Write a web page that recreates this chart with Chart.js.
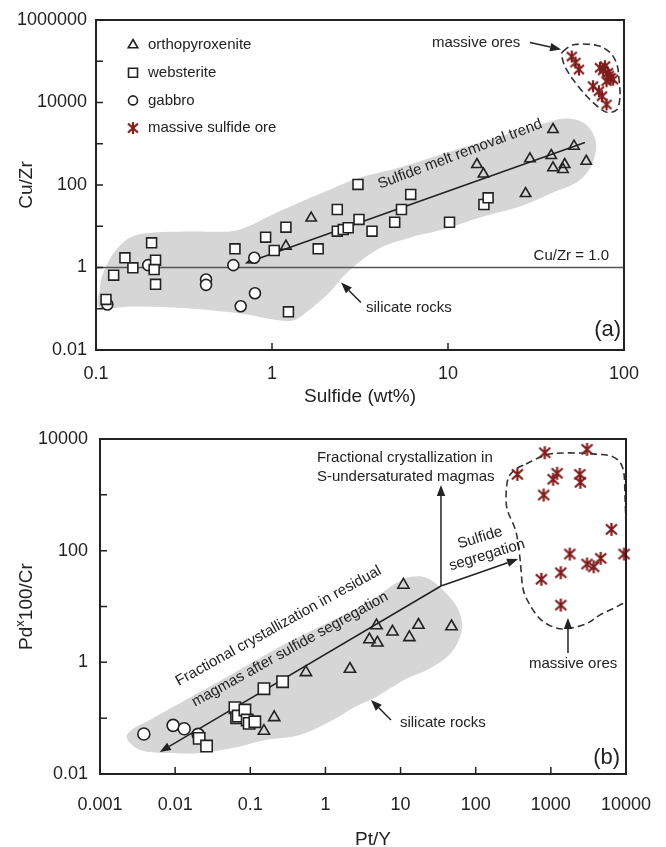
<!DOCTYPE html>
<html>
<head>
<meta charset="utf-8">
<script src="https://cdn.jsdelivr.net/npm/chart.js@4.4.1/dist/chart.umd.min.js"></script>
<style>
  html, body { margin: 0; padding: 0; background: #fff; }
  canvas { display: block; }
</style>
</head>
<body>
<canvas id="chartA" width="666" height="420"></canvas>
<canvas id="chartB" width="666" height="427"></canvas>
<script>
// ---- series names (legend) ----
const seriesNames = ['orthopyroxenite', 'websterite', 'gabbro', 'massive sulfide ore'];
const seriesKinds = ['triangle', 'rect', 'circle', 'ore'];

// ---- (a) Cu/Zr vs sulfide (wt%) ----
const aOrthoSulfide = [1.20, 1.67, 14.6, 15.9, 27.6, 29.2, 39.5, 38.6, 52, 61, 39.5, 45, 46];
const aOrthoCuZr = [3.28, 15.8, 314, 185, 62, 432, 2215, 519, 872, 377, 261, 238, 314];
const aWebsSulfide = [0.114, 0.126, 0.146, 0.162, 0.207, 0.218, 0.214, 0.218, 0.616, 0.92, 1.03, 1.20, 1.83, 1.24,
  3.08, 2.35, 3.12, 2.35, 2.54, 2.71, 3.70, 6.14, 5.44, 4.98, 10.2, 16.0, 16.9];
const aWebsCuZr = [0.168, 0.65, 1.72, 0.98, 3.97, 1.50, 0.89, 0.39, 2.84, 5.43, 2.58, 9.5, 2.84, 0.084,
  103, 25.5, 14.6, 7.6, 8.3, 9.2, 7.6, 59, 25.5, 12.5, 12.5, 33.7, 49];
const aGabbroSulfide = [0.116, 0.198, 0.422, 0.422, 0.603, 0.793, 0.80, 0.664];
const aGabbroCuZr = [0.127, 1.14, 0.51, 0.38, 1.14, 1.72, 0.238, 0.115];
const aOreSulfide = [50.5, 53, 55.5, 73, 78, 81, 84, 86.6, 79.6, 66.7, 72, 75, 79.6, 82, 76];
const aOreCuZr = [130000, 93000, 63000, 69500, 76000, 52500, 39500, 36000, 32800, 24800, 18800, 14200, 8950, 45000, 60000];

const aXTicks = [0.1, 1, 10, 100];
const aXLabels = [0.1, 1, 10, 100];
const aYTicks = [0.01, 0.1, 1, 10, 100, 1000, 10000, 100000, 1000000];
const aYLabels = [0.01, 1, 100, 10000, 1000000];

// silicate rocks field and massive ore outline, in data units
const aFieldX = [0.105, 0.105, 0.110, 0.128, 0.156, 0.203, 0.342, 0.577, 0.75, 0.975, 1.44, 2.14, 3.16, 5.3, 10.3, 19.7,
  33.3, 46.8, 60.8, 69.3, 65.8, 54.8, 39.5, 25.6, 15.2, 9.37, 6.33, 4.27, 3.16, 2.53, 2.14, 1.64, 1.32, 1.01, 0.72, 0.462, 0.274, 0.162];
const aFieldY = [0.107, 0.29, 0.76, 2.44, 5.3, 7.0, 7.5, 7.5, 10.4, 18, 38, 78, 152, 266, 650, 1500,
  2930, 4100, 2930, 1070, 314, 122, 66, 30, 16.3, 8.3, 5.6, 3.23, 1.4, 0.6, 0.26, 0.096, 0.052, 0.055, 0.073, 0.091, 0.107, 0.113];
const aOreZoneX = [45, 52.7, 70.3, 83.3, 91.2, 93.7, 94.9, 91.2, 81.1, 73.1, 61.6, 51.3, 46.2, 44.4];
const aOreZoneY = [172000, 255000, 241000, 163000, 83400, 36100, 14000, 6760, 5730, 7160, 14000, 36100, 74600, 130000];

// ---- (b) Pd x 100/Cr vs Pt/Y ----
const bOrthoPtY = [0.152, 0.208, 0.55, 2.12, 4.78, 3.85, 4.92, 7.8, 13.1, 17.3, 47.6, 10.9];
const bOrthoPd = [0.0588, 0.1035, 0.662, 0.759, 4.56, 2.56, 2.24, 3.52, 2.8, 4.66, 4.38, 24.3];
const bWebsPtY = [0.0209, 0.0262, 0.0624, 0.0657, 0.069, 0.0848, 0.091, 0.0967, 0.115, 0.152, 0.269];
const bWebsPd = [0.0435, 0.0317, 0.154, 0.102, 0.109, 0.14, 0.0927, 0.0807, 0.0863, 0.337, 0.45];
const bGabbroPtY = [0.00383, 0.0094, 0.0132, 0.0202];
const bGabbroPd = [0.052, 0.0744, 0.0647, 0.0513];
const bOrePtY = [358, 830, 3030, 1210, 1070, 2430, 2470, 804, 6390, 9440, 1790, 3030, 3720, 4610, 1355, 747, 1355];
const bOrePd = [2330, 5680, 6530, 2430, 1900, 2330, 1680, 993, 241, 87, 87, 57.6, 51.5, 72.9, 40.3, 30.7, 10.6];

const bXTicks = [0.001, 0.01, 0.1, 1, 10, 100, 1000, 10000];
const bXLabels = [0.001, 0.01, 0.1, 1, 10, 100, 1000, 10000];
const bYTicks = [0.01, 0.1, 1, 10, 100, 1000, 10000];
const bYLabels = [0.01, 1, 100, 10000];

const bFieldX = [0.00228, 0.00273, 0.0046, 0.0093, 0.0213, 0.0487, 0.108, 0.272, 0.77, 2.12, 4.56, 7.92, 13.3, 22.5, 36.7,
  56.4, 65.8, 58.1, 41.5, 22.5, 11.8, 4.7, 2.32, 1.26, 0.457, 0.161, 0.0587, 0.0213, 0.00775, 0.00339];
const bFieldY = [0.044, 0.064, 0.0927, 0.158, 0.294, 0.546, 1.01, 2.04, 4.11, 7.96, 14.2, 24.3, 33.7, 32.4, 19.7,
  9.77, 4.66, 2.31, 1.24, 0.727, 0.501, 0.239, 0.152, 0.0927, 0.0499, 0.0406, 0.0292, 0.0237, 0.0237, 0.0269];
const bOreZoneX = [468, 863, 1590, 3650, 6730, 9140, 9730, 10000, 10000, 10000, 8340, 4520, 2940, 1590, 1070, 718, 528, 427, 389, 344, 269, 253, 269, 344];
const bOreZoneY = [3570, 5190, 5640, 5410, 4780, 2910, 845, 217, 55.6, 13.7, 10.7, 7.08, 4.88, 3.97, 4.31, 5.99, 10.7, 20.6, 71, 217, 495, 845, 1930, 2910];

// ---- look ----
const ink = '#222222';
const fieldGrey = '#d6d6d6';
const oreRed = '#7f1d1d';
const fontFamily = '"Liberation Sans", Arial, Helvetica, sans-serif';

// six-armed asterisk used for the massive sulfide ore
function oreMarker(size) {
  const c = document.createElement('canvas');
  c.width = size + 2;
  c.height = size + 2;
  const g = c.getContext('2d');
  const m = 1, e = size + 1, mid = (size + 2) / 2;
  g.strokeStyle = oreRed;
  g.lineWidth = 2.2;
  g.beginPath();
  g.moveTo(m + 1, m + 1.5); g.lineTo(e - 1, e - 1.5);
  g.moveTo(e - 1, m + 1.5); g.lineTo(m + 1, e - 1.5);
  g.moveTo(mid, m); g.lineTo(mid, e);
  g.stroke();
  return c;
}
const oreSmall = oreMarker(12);
const oreBig = oreMarker(13);

function series(label, xs, ys, kind, big) {
  const base = {
    label,
    data: xs.map((x, i) => ({ x, y: ys[i] })),
    clip: false,
    pointBorderColor: ink,
    pointBorderWidth: 1.6,
  };
  if (kind === 'triangle') {
    return { ...base, pointStyle: 'triangle', pointRadius: big ? 6.5 : 6, pointBackgroundColor: 'rgba(0,0,0,0)' };
  }
  if (kind === 'rect') {
    return { ...base, pointStyle: 'rect', pointRadius: big ? 8 : 7, pointBackgroundColor: '#fff' };
  }
  if (kind === 'circle') {
    return { ...base, pointStyle: 'circle', pointRadius: big ? 6 : 5.5, pointBackgroundColor: '#fff' };
  }
  return { ...base, pointStyle: big ? oreBig : oreSmall, pointRadius: 6 };
}

// ---- annotations for each panel ----
const decorFor = {
  chartA: {
    fields: [[aFieldX, aFieldY]],
    outlines: [[aOreZoneX, aOreZoneY]],
    hlines: [1],
    arrows: [
      [60, 1070, 0.70, 1.25],
      [29.2, 285000, 43.9, 193000],
      [3.2, 0.142, 2.47, 0.43],
    ],
    texts: [
      { t: 'massive ores', x: 8.11, y: 285000, align: 'left' },
      { t: 'Sulfide melt removal trend', x: 11.7, y: 560, align: 'center', rot: -20.6 },
      { t: 'silicate rocks', x: 3.42, y: 0.107, align: 'left' },
      { t: 'Cu/Zr = 1.0', x: 82.2, y: 1.95, align: 'right' },
      { t: '(a)', x: 96.2, y: 0.0314, align: 'right', size: 22 },
    ],
    legend: true,
    xTitle: 'Sulfide (wt%)', xTitleDx: 0, xTitleDy: 47,
    yTitle: [{ t: 'Cu/Zr', s: 19 }],
  },
  chartB: {
    fields: [[bFieldX, bFieldY]],
    outlines: [[bOreZoneX, bOreZoneY]],
    hlines: [],
    arrows: [
      [34.5, 23.3, 0.00625, 0.0248],
      [34.5, 23.3, 366, 70.8],
      [34.5, 23.3, 34.5, 1500],
      [1690, 1.47, 1690, 6.2],
      [7.45, 0.0927, 4.04, 0.211],
    ],
    texts: [
      { t: 'Fractional crystallization in', x: 0.77, y: 4560, align: 'left' },
      { t: 'S-undersaturated magmas', x: 0.77, y: 2085, align: 'left' },
      { t: 'Sulfide', x: 114, y: 169, align: 'center', rot: -17 },
      { t: 'segregation', x: 141, y: 83.5, align: 'center', rot: -17 },
      { t: 'Fractional crystallization in residual', x: 0.237, y: 4.47, align: 'center', rot: -29 },
      { t: 'magmas after sulfide segregation', x: 0.337, y: 1.70, align: 'center', rot: -29 },
      { t: 'silicate rocks', x: 9.8, y: 0.0818, align: 'left' },
      { t: 'massive ores', x: 1975, y: 0.933, align: 'center' },
      { t: '(b)', x: 8340, y: 0.0193, align: 'right', size: 22 },
    ],
    legend: false,
    xTitle: 'Pt/Y', xTitleDx: 10, xTitleDy: 66,
    yTitle: [{ t: 'Pd', s: 19 }, { t: 'x', s: 13, raise: 7 }, { t: '100/Cr', s: 19 }],
  },
};

function smoothClosed(ctx, pts) {
  const n = pts.length;
  ctx.beginPath();
  ctx.moveTo(pts[0][0], pts[0][1]);
  for (let i = 0; i < n; i++) {
    const p0 = pts[(i - 1 + n) % n], p1 = pts[i], p2 = pts[(i + 1) % n], p3 = pts[(i + 2) % n];
    ctx.bezierCurveTo(
      p1[0] + (p2[0] - p0[0]) / 6, p1[1] + (p2[1] - p0[1]) / 6,
      p2[0] - (p3[0] - p1[0]) / 6, p2[1] - (p3[1] - p1[1]) / 6,
      p2[0], p2[1]);
  }
  ctx.closePath();
}

function drawArrow(ctx, p, q) {
  const ang = Math.atan2(q[1] - p[1], q[0] - p[0]);
  const head = 11, half = 4.2;
  const bx = q[0] - head * Math.cos(ang), by = q[1] - head * Math.sin(ang);
  ctx.beginPath();
  ctx.moveTo(p[0], p[1]);
  ctx.lineTo(bx, by);
  ctx.strokeStyle = ink;
  ctx.lineWidth = 1.5;
  ctx.stroke();
  ctx.beginPath();
  ctx.moveTo(q[0], q[1]);
  ctx.lineTo(bx - half * Math.sin(ang), by + half * Math.cos(ang));
  ctx.lineTo(bx + half * Math.sin(ang), by - half * Math.cos(ang));
  ctx.closePath();
  ctx.fillStyle = ink;
  ctx.fill();
}

function drawMarker(ctx, kind, x, y) {
  ctx.save();
  ctx.strokeStyle = ink;
  ctx.lineWidth = 1.6;
  ctx.beginPath();
  if (kind === 'triangle') {
    const r = 5.5;
    ctx.moveTo(x, y - r);
    ctx.lineTo(x + r * 0.866, y + r * 0.5);
    ctx.lineTo(x - r * 0.866, y + r * 0.5);
    ctx.closePath();
    ctx.stroke();
  } else if (kind === 'rect') {
    ctx.rect(x - 4.5, y - 4.5, 9, 9);
    ctx.stroke();
  } else if (kind === 'circle') {
    ctx.arc(x, y, 4.5, 0, Math.PI * 2);
    ctx.stroke();
  } else {
    ctx.drawImage(oreSmall, x - oreSmall.width / 2, y - oreSmall.height / 2);
  }
  ctx.restore();
}

const decorPlugin = {
  id: 'decor',
  beforeDatasetsDraw(chart) {
    const d = decorFor[chart.canvas.id];
    const { ctx, chartArea: a, scales } = chart;
    const P = (x, y) => [scales.x.getPixelForValue(x), scales.y.getPixelForValue(y)];
    ctx.save();
    ctx.beginPath();
    ctx.rect(a.left, a.top, a.width, a.height);
    ctx.clip();
    d.fields.forEach(([xs, ys]) => {
      smoothClosed(ctx, xs.map((v, i) => P(v, ys[i])));
      ctx.fillStyle = fieldGrey;
      ctx.fill();
    });
    d.hlines.forEach((v) => {
      const yy = scales.y.getPixelForValue(v);
      ctx.beginPath();
      ctx.moveTo(a.left, yy);
      ctx.lineTo(a.right, yy);
      ctx.strokeStyle = '#555';
      ctx.lineWidth = 1.5;
      ctx.stroke();
    });
    d.outlines.forEach(([xs, ys]) => {
      smoothClosed(ctx, xs.map((v, i) => P(v, ys[i])));
      ctx.setLineDash([7, 4]);
      ctx.strokeStyle = '#333';
      ctx.lineWidth = 1.6;
      ctx.stroke();
      ctx.setLineDash([]);
    });
    d.arrows.forEach(([x0, y0, x1, y1]) => drawArrow(ctx, P(x0, y0), P(x1, y1)));
    ctx.restore();
  },
  afterDatasetsDraw(chart) {
    const d = decorFor[chart.canvas.id];
    const { ctx, scales } = chart;
    ctx.save();
    ctx.fillStyle = ink;
    ctx.textBaseline = 'middle';
    d.texts.forEach((o) => {
      ctx.save();
      ctx.font = (o.size || 15) + 'px ' + fontFamily;
      ctx.textAlign = o.align;
      ctx.translate(scales.x.getPixelForValue(o.x), scales.y.getPixelForValue(o.y));
      if (o.rot) ctx.rotate(o.rot * Math.PI / 180);
      ctx.fillText(o.t, 0, 0);
      ctx.restore();
    });
    ctx.restore();
  },
  afterDraw(chart) {
    const d = decorFor[chart.canvas.id];
    const { ctx, chartArea: a, scales } = chart;
    ctx.save();
    ctx.strokeStyle = ink;
    ctx.lineWidth = 1.5;
    ctx.beginPath();
    scales.x.ticks.forEach((t) => {
      const px = scales.x.getPixelForValue(t.value);
      if (px > a.left + 2 && px < a.right - 2) {
        ctx.moveTo(px, a.bottom);
        ctx.lineTo(px, a.bottom - 7);
      }
    });
    scales.y.ticks.forEach((t) => {
      const py = scales.y.getPixelForValue(t.value);
      if (py > a.top + 2 && py < a.bottom - 2) {
        ctx.moveTo(a.left, py);
        ctx.lineTo(a.left + 7, py);
      }
    });
    ctx.stroke();
    ctx.lineWidth = 2;
    ctx.strokeRect(a.left, a.top, a.width, a.height);

    ctx.fillStyle = ink;
    ctx.textBaseline = 'middle';
    if (d.legend) {
      ctx.font = '15px ' + fontFamily;
      ctx.textAlign = 'left';
      seriesNames.forEach((name, i) => {
        const y = a.top + 25 + i * 27.7;
        drawMarker(ctx, seriesKinds[i], a.left + 37, y);
        ctx.fillText(name, a.left + 52, y);
      });
    }

    // axis titles
    ctx.font = '19px ' + fontFamily;
    ctx.textAlign = 'center';
    ctx.fillText(d.xTitle, (a.left + a.right) / 2 + d.xTitleDx, a.bottom + d.xTitleDy);

    ctx.translate(27, (a.top + a.bottom) / 2);
    ctx.rotate(-Math.PI / 2);
    ctx.textAlign = 'left';
    const widths = d.yTitle.map((p) => {
      ctx.font = p.s + 'px ' + fontFamily;
      return ctx.measureText(p.t).width;
    });
    let x = -widths.reduce((s, w) => s + w, 0) / 2;
    d.yTitle.forEach((p, i) => {
      ctx.font = p.s + 'px ' + fontFamily;
      ctx.fillText(p.t, x, -(p.raise || 0));
      x += widths[i];
    });
    ctx.restore();
  },
};

function logAxis(min, max, tickValues, labelled, labelPad, size) {
  return {
    type: 'logarithmic',
    min,
    max,
    grid: { display: false },
    border: { display: false },
    ticks: {
      autoSkip: false,
      maxRotation: 0,
      padding: labelPad,
      color: ink,
      font: { family: fontFamily, size: 18 },
      callback: (v) => (labelled.includes(v) ? String(v) : ''),
    },
    afterBuildTicks: (scale) => {
      scale.ticks = tickValues.map((v) => ({ value: v }));
    },
    afterFit: (scale) => {
      if (scale.isHorizontal()) scale.height = size;
      else scale.width = size;
      scale.paddingLeft = 0;
      scale.paddingRight = 0;
      scale.paddingTop = 0;
      scale.paddingBottom = 0;
    },
  };
}

function makeChart(id, datasets, padding, xAxis, yAxis) {
  return new Chart(document.getElementById(id), {
    type: 'scatter',
    data: { datasets },
    options: {
      responsive: false,
      animation: false,
      events: [],
      layout: { padding },
      plugins: { legend: { display: false }, tooltip: { enabled: false } },
      scales: { x: xAxis, y: yAxis },
    },
    plugins: [decorPlugin],
  });
}

makeChart('chartA', [
  series(seriesNames[0], aOrthoSulfide, aOrthoCuZr, 'triangle', false),
  series(seriesNames[1], aWebsSulfide, aWebsCuZr, 'rect', false),
  series(seriesNames[2], aGabbroSulfide, aGabbroCuZr, 'circle', false),
  series(seriesNames[3], aOreSulfide, aOreCuZr, 'ore', false),
], { left: 0, top: 20, right: 42, bottom: 0 },
  logAxis(0.1, 100, aXTicks, aXLabels, 5, 70),
  logAxis(0.01, 1000000, aYTicks, aYLabels, 1, 96));

makeChart('chartB', [
  series(seriesNames[0], bOrthoPtY, bOrthoPd, 'triangle', true),
  series(seriesNames[1], bWebsPtY, bWebsPd, 'rect', true),
  series(seriesNames[2], bGabbroPtY, bGabbroPd, 'circle', true),
  series(seriesNames[3], bOrePtY, bOrePd, 'ore', true),
], { left: 0, top: 19, right: 40, bottom: 0 },
  logAxis(0.001, 10000, bXTicks, bXLabels, 12, 73),
  logAxis(0.01, 10000, bYTicks, bYLabels, 4, 100));
</script>
</body>
</html>
